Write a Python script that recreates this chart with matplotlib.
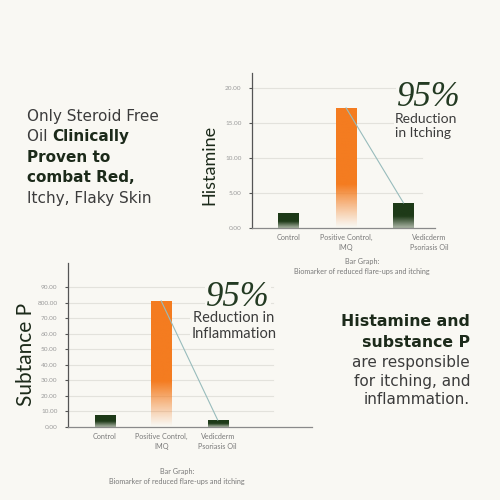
import numpy as np
import matplotlib
matplotlib.use("Agg")
import matplotlib.pyplot as plt
import matplotlib.transforms as mtransforms
from matplotlib.colors import to_rgb

# ---------------- data ----------------
categories = ["Control", "Positive Control,\nIMQ", "Vedicderm\nPsoriasis Oil"]
histamine = [2.1, 17.2, 3.6]
substance_p = [8.0, 81.0, 4.5]
hist_ticks = [0, 5, 10, 15, 20]
hist_ticklabels = ["0.00", "5.00", "10.00", "15.00", "20.00"]
subp_ticks = [0, 10, 20, 30, 40, 50, 60, 70, 80, 90]
subp_ticklabels = ["0.00", "10.00", "20.00", "30.00", "40.00", "50.00",
                   "60.00", "70.00", "800.00", "90.00"]
bar_kinds = ["green", "orange", "green"]

BG = "#f9f8f3"
ORANGE = "#f47c20"
GREEN = "#1e3a18"
DARK = "#1c2a1a"
GRAYTXT = "#3c3c3c"
SANS = ["Lato", "DejaVu Sans"]
HEAD = ["DejaVu Sans"]

plt.rcParams["font.family"] = SANS

fig = plt.figure(figsize=(5, 5), dpi=100)
fig.patch.set_facecolor(BG)


def gradient_image(kind):
    n = 200
    t = np.linspace(0, 1, n)  # 0 bottom -> 1 top
    if kind == "orange":
        rgb = to_rgb(ORANGE)
        alpha = np.clip(t / 0.36, 0, 1) ** 1.1
    else:
        rgb = to_rgb(GREEN)
        alpha = 0.35 + 0.65 * np.clip(t / 0.45, 0, 1)
    img = np.zeros((n, 1, 4))
    img[:, 0, :3] = rgb
    img[:, 0, 3] = alpha
    return img


def draw_chart(ax, values, ticks, ticklabels, ylim, xlim, grid_frac, ylabel,
               label_coords, ylabel_size, label_shift=None):
    ax.set_facecolor("none")
    bars = ax.bar(range(len(values)), values, width=0.36, color="none",
                  edgecolor="none", zorder=3)
    for rect, kind in zip(bars.patches, bar_kinds):
        x0, y0 = rect.get_x(), rect.get_y()
        w, h = rect.get_width(), rect.get_height()
        im = ax.imshow(gradient_image(kind), extent=[x0, x0 + w, y0, y0 + h],
                       origin="lower", aspect="auto", zorder=3,
                       interpolation="bilinear")
        im.set_clip_path(rect)
    # connector line from positive control to Vedicderm
    ax.plot([1, 2], [values[1], values[2]], color="#98bcbc", lw=0.8, zorder=4)
    ax.set_xlim(*xlim)
    ax.set_ylim(*ylim)
    # gridlines
    for t in ticks[1:]:
        ax.axhline(t, xmin=0, xmax=grid_frac, color="#e3e2dc", lw=0.8, zorder=1)
    ax.set_yticks(ticks)
    ax.set_yticklabels(ticklabels)
    ax.tick_params(axis="y", length=2.5, width=0.8, color="#555555",
                   labelsize=4.6, labelcolor="#9a9a9a", pad=5)
    ax.set_xticks(range(len(values)))
    ax.set_xticklabels(categories)
    ax.tick_params(axis="x", length=0, labelsize=5.2, labelcolor="#7a7a7a",
                   pad=4)
    for lbl in ax.get_xticklabels():
        lbl.set_linespacing(1.5)
    if label_shift is not None:
        lbl = ax.get_xticklabels()[2]
        lbl.set_transform(lbl.get_transform() +
                          mtransforms.ScaledTranslation(label_shift / 100, 0,
                                                        fig.dpi_scale_trans))
    for s in ["top", "right"]:
        ax.spines[s].set_visible(False)
    ax.spines["left"].set_color("#555555")
    ax.spines["left"].set_linewidth(0.9)
    ax.spines["bottom"].set_color("#8a8a8a")
    ax.spines["bottom"].set_linewidth(0.9)
    ax.set_ylabel(ylabel, fontsize=ylabel_size, color=DARK)
    ax.yaxis.set_label_coords(*label_coords)


W = H = 500.0

# top chart (Histamine)
ax1 = fig.add_axes([252 / W, 1 - 228 / H, 183 / W, 155 / H])
draw_chart(ax1, histamine, hist_ticks, hist_ticklabels, (0, 22.2),
           (-0.64, 2.55), 0.93, "Histamine", (-0.19, 0.41), 13,
           label_shift=26)

# bottom chart (Substance P)
ax2 = fig.add_axes([68 / W, 1 - 427 / H, 244 / W, 164 / H])
draw_chart(ax2, substance_p, subp_ticks, subp_ticklabels, (0, 105.4),
           (-0.65, 3.67), 0.84, "Subtance P", (-0.13, 0.44), 15)

# 95% callouts
bb = dict(facecolor=BG, edgecolor="none", pad=1.0)
SERIF_IT = dict(family="Liberation Serif", fontstyle="italic")
fig.text(397 / W, 1 - 97 / H, "95%", fontsize=25, color="#233a22", ha="left",
         va="center", bbox=bb, **SERIF_IT)
fig.text(395 / W, 1 - 126 / H, "Reduction\nin Itching", fontsize=10,
         color=GRAYTXT, ha="left", va="center", linespacing=1.15, bbox=bb)

fig.text(238 / W, 1 - 297 / H, "95%", fontsize=25, color="#233a22",
         ha="center", va="center", bbox=bb, **SERIF_IT)
fig.text(234 / W, 1 - 326 / H, "Reduction in\nInflammation", fontsize=10.5,
         color=GRAYTXT, ha="center", va="center", linespacing=1.15,
         multialignment="center", bbox=bb)

# captions
for cx, cy in [(362, 258), (177, 468)]:
    fig.text(cx / W, 1 - cy / H, "Bar Graph:\nBiomarker of reduced flare-ups and itching",
             fontsize=5.2, color="#7a7a7a", ha="center", va="top",
             linespacing=1.5, multialignment="center")

# left headline with mixed weights
FS_L = 11.0
x0 = 27 / W
fig.text(x0, 1 - 121 / H, "Only Steroid Free", fontsize=FS_L,
         color=GRAYTXT, ha="left", va="baseline", family=HEAD)
t2 = fig.text(x0, 1 - 141.5 / H, "Oil ", fontsize=FS_L, color=GRAYTXT,
              ha="left", va="baseline", family=HEAD)
plt.annotate("Clinically", xy=(1, 0), xycoords=t2, fontsize=FS_L,
             fontweight="bold", color=DARK, ha="left", va="bottom",
             annotation_clip=False, family=HEAD)
fig.text(x0, 1 - 162 / H, "Proven to", fontsize=FS_L, fontweight="bold",
         color=DARK, ha="left", va="baseline", family=HEAD)
fig.text(x0, 1 - 182.5 / H, "combat Red,", fontsize=FS_L, fontweight="bold",
         color=DARK, ha="left", va="baseline", family=HEAD)
fig.text(x0, 1 - 203 / H, "Itchy, Flaky Skin", fontsize=FS_L,
         color=GRAYTXT, ha="left", va="baseline", family=HEAD)

# right block
xr = 470 / W
right_lines = [("Histamine and", "bold", DARK, 326, 11.3),
               ("substance P", "bold", DARK, 347, 11.3),
               ("are responsible", "normal", GRAYTXT, 367, 11.0),
               ("for itching, and", "normal", GRAYTXT, 386, 11.0),
               ("inflammation.", "normal", GRAYTXT, 404, 11.0)]
for txt, wt, col, y, fs in right_lines:
    fig.text(xr, 1 - y / H, txt, fontsize=fs, fontweight=wt, color=col,
             ha="right", va="baseline", family=HEAD)

fig.savefig("out.png", dpi=100, facecolor=BG)
